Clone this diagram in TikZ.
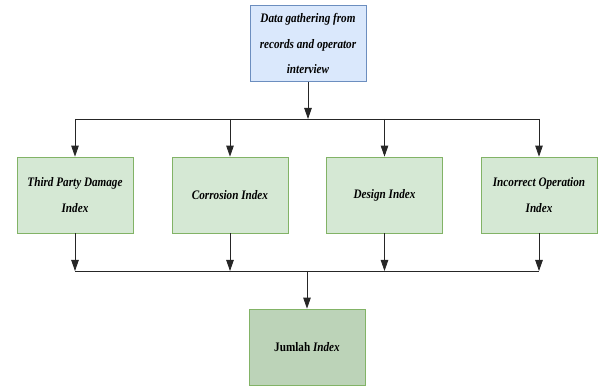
\documentclass[tikz,border=0pt]{standalone}
\usepackage{fontspec}
\setmainfont{Liberation Serif}
\newfontfamily\narrowserif[FakeStretch=0.86]{Liberation Serif}
\usetikzlibrary{arrows.meta}
\definecolor{bluefill}{HTML}{DAE8FC}
\definecolor{blueline}{HTML}{6C8EBF}
\definecolor{greenfill}{HTML}{D5E8D4}
\definecolor{greenline}{HTML}{82B366}
\definecolor{darkfill}{HTML}{BCD3B8}
\tikzset{
  box/.style={draw=greenline, fill=greenfill, line width=0.7pt, minimum width=116pt, minimum height=76pt, align=center, inner sep=0pt, font=\narrowserif\fontsize{13}{25.5}\selectfont\bfseries\itshape},
  topbox/.style={box, draw=blueline, fill=bluefill},
  sumbox/.style={box, fill=darkfill, font=\narrowserif\fontsize{13}{25.5}\selectfont\bfseries},
  conn/.style={draw=black!85, line width=0.8pt},
  arr/.style={conn, -{Triangle[width=7.5pt,length=11pt]}}
}
\begin{document}
\begin{tikzpicture}[x=1pt,y=-1pt]
\useasboundingbox (0,0) rectangle (602,387);
\node[topbox] (top) at (308,43.5) {Data gathering from\\records and operator\\interview};
\node[box] (b1) at (75,195) {Third Party Damage\\Index};
\node[box] (b2) at (230,195) {Corrosion Index};
\node[box] (b3) at (384.5,195) {Design Index};
\node[box] (b4) at (539,195) {Incorrect Operation\\Index};
\node[sumbox] (sum) at (307,347) {Jumlah \textit{Index}};
\coordinate (t0) at (308,119);
\coordinate (t1) at (75,119);
\coordinate (t2) at (230,119);
\coordinate (t3) at (384.5,119);
\coordinate (t4) at (539,119);
\coordinate (u0) at (307,271);
\coordinate (u1) at (75,271);
\coordinate (u2) at (230,271);
\coordinate (u3) at (384.5,271);
\coordinate (u4) at (539,271);
\draw[arr] (top.south) -- (t0);
\draw[conn] (t1) -- (t4);
\foreach \i in {1,2,3,4} {
  \draw[arr] (t\i) -- (b\i.north);
  \draw[arr] (b\i.south) -- (u\i);
}
\draw[conn] (u1) -- (u4);
\draw[arr] (u0) -- (sum.north);
\end{tikzpicture}
\end{document}
